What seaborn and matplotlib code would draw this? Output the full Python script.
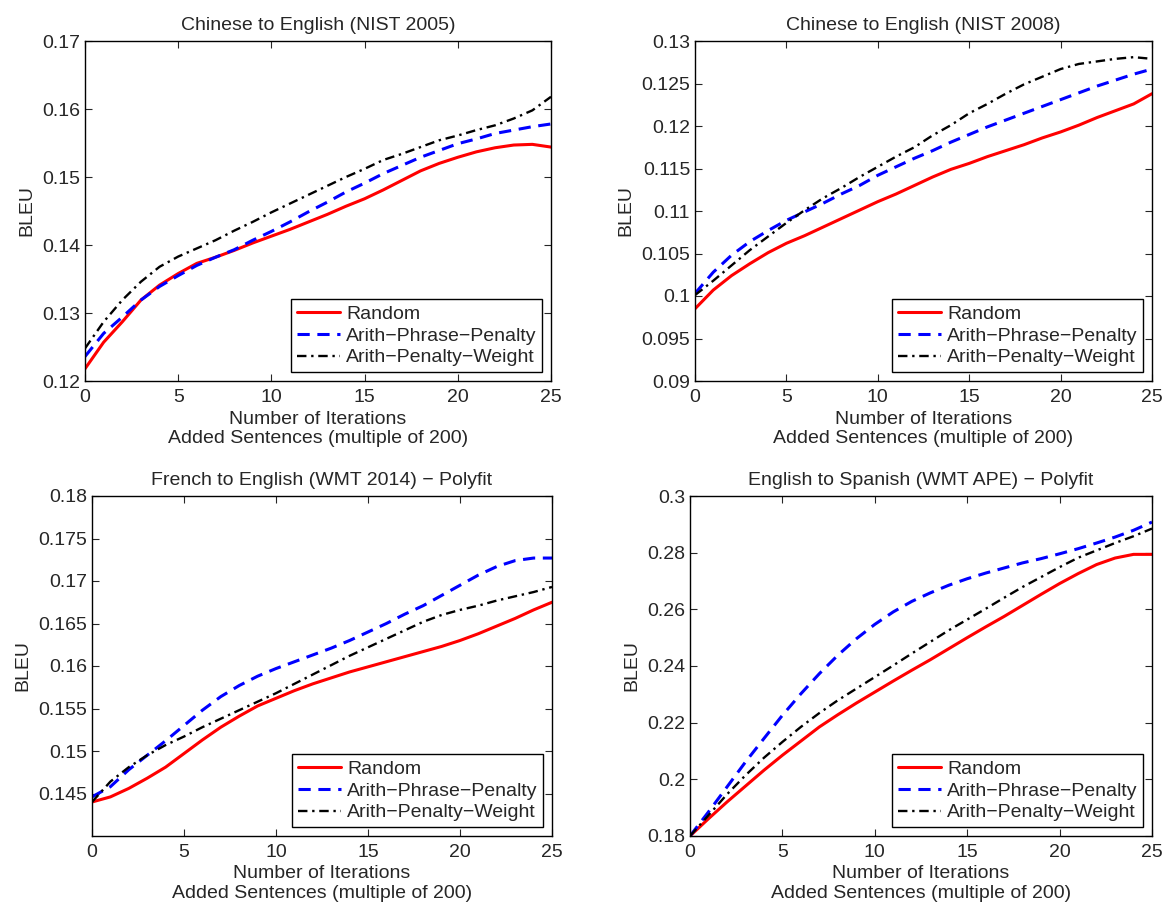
import matplotlib
matplotlib.use("Agg")
import matplotlib.pyplot as plt
import seaborn as sns
import numpy as np
import pandas as pd

sns.set_style("ticks")
plt.rcParams['font.family'] = ['Liberation Sans', 'DejaVu Sans']
plt.rcParams['axes.unicode_minus'] = True

iterations = list(range(26))
series_names = ["Random", "Arith\u2212Phrase\u2212Penalty", "Arith\u2212Penalty\u2212Weight"]

titles = ["Chinese to English (NIST 2005)",
          "Chinese to English (NIST 2008)",
          "French to English (WMT 2014) \u2212 Polyfit",
          "English to Spanish (WMT APE) \u2212 Polyfit"]

# Panel 1: NIST 2005
nist05_random = [0.1218, 0.1257, 0.1287, 0.1319, 0.1341, 0.1358, 0.1373, 0.1382, 0.1392, 0.1403,
                 0.1413, 0.1423, 0.1434, 0.1445, 0.1457, 0.1468, 0.1481, 0.1495, 0.1509, 0.1520,
                 0.1529, 0.1537, 0.1543, 0.1547, 0.1548, 0.1544]
nist05_app = [0.1236, 0.1270, 0.1294, 0.1319, 0.1339, 0.1355, 0.1370, 0.1382, 0.1393, 0.1407,
              0.1420, 0.1434, 0.1449, 0.1463, 0.1478, 0.1491, 0.1505, 0.1517, 0.1529, 0.1539,
              0.1549, 0.1556, 0.1564, 0.1569, 0.1574, 0.1578]
nist05_apw = [0.1248, 0.1287, 0.1319, 0.1346, 0.1368, 0.1383, 0.1395, 0.1407, 0.1421, 0.1434,
              0.1448, 0.1461, 0.1474, 0.1487, 0.1500, 0.1512, 0.1525, 0.1534, 0.1544, 0.1554,
              0.1561, 0.1569, 0.1576, 0.1586, 0.1598, 0.1618]

# Panel 2: NIST 2008
nist08_random = [0.0985, 0.1007, 0.1024, 0.1038, 0.1051, 0.1062, 0.1071, 0.1081, 0.1091, 0.1101,
                 0.1111, 0.1120, 0.1130, 0.1140, 0.1149, 0.1156, 0.1164, 0.1171, 0.1178, 0.1186,
                 0.1193, 0.1201, 0.1210, 0.1218, 0.1226, 0.1238]
nist08_app = [0.1003, 0.1028, 0.1048, 0.1064, 0.1077, 0.1089, 0.1099, 0.1109, 0.1120, 0.1130,
              0.1142, 0.1152, 0.1162, 0.1171, 0.1181, 0.1190, 0.1199, 0.1207, 0.1215, 0.1223,
              0.1231, 0.1239, 0.1247, 0.1254, 0.1261, 0.1267]
nist08_apw = [0.1001, 0.1018, 0.1036, 0.1054, 0.1070, 0.1086, 0.1101, 0.1115, 0.1127, 0.1140,
              0.1152, 0.1164, 0.1175, 0.1189, 0.1201, 0.1215, 0.1226, 0.1238, 0.1249, 0.1258,
              0.1267, 0.1273, 0.1276, 0.1279, 0.1281, 0.1279]

# Panel 3: WMT 2014
wmt14_random = [0.1440, 0.1446, 0.1456, 0.1468, 0.1481, 0.1497, 0.1513, 0.1528, 0.1541, 0.1553,
                0.1562, 0.1571, 0.1579, 0.1586, 0.1593, 0.1599, 0.1605, 0.1611, 0.1617, 0.1623,
                0.1630, 0.1638, 0.1647, 0.1656, 0.1666, 0.1675]
wmt14_app = [0.1446, 0.1458, 0.1478, 0.1495, 0.1512, 0.1530, 0.1548, 0.1564, 0.1577, 0.1588,
             0.1597, 0.1605, 0.1613, 0.1621, 0.1630, 0.1640, 0.1650, 0.1661, 0.1671, 0.1683,
             0.1695, 0.1707, 0.1717, 0.1724, 0.1727, 0.1727]
wmt14_apw = [0.1440, 0.1464, 0.1481, 0.1495, 0.1507, 0.1517, 0.1528, 0.1538, 0.1548, 0.1558,
             0.1568, 0.1579, 0.1590, 0.1601, 0.1612, 0.1622, 0.1632, 0.1642, 0.1652, 0.1660,
             0.1666, 0.1671, 0.1677, 0.1682, 0.1687, 0.1693]

# Panel 4: WMT APE
ape_random = [0.1800, 0.1861, 0.1920, 0.1976, 0.2032, 0.2085, 0.2135, 0.2185, 0.2228, 0.2269,
              0.2308, 0.2347, 0.2385, 0.2422, 0.2461, 0.2500, 0.2538, 0.2575, 0.2614, 0.2653,
              0.2691, 0.2726, 0.2758, 0.2781, 0.2794, 0.2794]
ape_app = [0.1800, 0.1885, 0.1973, 0.2061, 0.2144, 0.2226, 0.2302, 0.2373, 0.2438, 0.2496,
           0.2547, 0.2591, 0.2628, 0.2658, 0.2685, 0.2708, 0.2728, 0.2746, 0.2764, 0.2779,
           0.2796, 0.2814, 0.2834, 0.2855, 0.2879, 0.2908]
ape_apw = [0.1800, 0.1873, 0.1947, 0.2014, 0.2076, 0.2132, 0.2185, 0.2234, 0.2279, 0.2320,
           0.2361, 0.2402, 0.2444, 0.2485, 0.2526, 0.2564, 0.2602, 0.2641, 0.2679, 0.2714,
           0.2749, 0.2782, 0.2808, 0.2834, 0.2858, 0.2885]

panels = [
    (nist05_random, nist05_app, nist05_apw),
    (nist08_random, nist08_app, nist08_apw),
    (wmt14_random, wmt14_app, wmt14_apw),
    (ape_random, ape_app, ape_apw),
]
ylims = [(0.12, 0.17), (0.09, 0.13), (0.14, 0.18), (0.18, 0.30)]
yticks = [
    [0.12, 0.13, 0.14, 0.15, 0.16, 0.17],
    [0.09, 0.095, 0.10, 0.105, 0.11, 0.115, 0.12, 0.125, 0.13],
    [0.145, 0.15, 0.155, 0.16, 0.165, 0.17, 0.175, 0.18],
    [0.18, 0.20, 0.22, 0.24, 0.26, 0.28, 0.30],
]
xticks = [0, 5, 10, 15, 20, 25]

W, H = 1165, 908
fig = plt.figure(figsize=(W / 100, H / 100), dpi=100)
rects_px = [  # left, top, right, bottom in pixels
    (85, 41, 551, 381),
    (695, 41, 1152, 381),
    (92, 496, 552, 836),
    (690, 496, 1152, 836),
]

colors = ["#ff0000", "#0000ff", "#000000"]
styles = ["-", (0, (4, 2.5)), (0, (4, 2, 1, 2))]
widths = [2.2, 2.2, 1.7]
fs = 14

for i, (rect, data) in enumerate(zip(rects_px, panels)):
    l, t, r, b = rect
    ax = fig.add_axes([l / W, 1 - b / H, (r - l) / W, (b - t) / H])
    for j, vals in enumerate(data):
        df = pd.DataFrame({"x": iterations, "y": vals})
        sns.lineplot(data=df, x="x", y="y", ax=ax, color=colors[j], linestyle=styles[j],
                     linewidth=widths[j], label=series_names[j])
    ax.set_xlim(0, 25)
    ax.set_ylim(*ylims[i])
    ax.set_xticks(xticks)
    ax.set_yticks(yticks[i])
    ax.set_yticklabels(["%g" % v for v in yticks[i]])
    ax.tick_params(direction="in", top=True, right=True, labelsize=fs, length=5, width=0.8)
    ax.tick_params(axis="x", pad=6)
    for s in ax.spines.values():
        s.set_linewidth(1.0)
        s.set_color("black")
    ax.set_title(titles[i], fontsize=fs, pad=8)
    ax.set_xlabel("Number of Iterations\nAdded Sentences (multiple of 200)", fontsize=fs,
                  labelpad=3, linespacing=1.2)
    ax.set_ylabel("BLEU", fontsize=fs, labelpad=5)
    leg = ax.legend(loc="lower right", fontsize=fs, frameon=True, fancybox=False,
                    borderpad=0.3, labelspacing=0.22, handlelength=2.2, handletextpad=0.3,
                    borderaxespad=0.45)
    leg.get_frame().set_edgecolor("black")
    leg.get_frame().set_linewidth(1.0)
    leg.get_frame().set_alpha(1.0)

fig.savefig("out.png", dpi=100)
